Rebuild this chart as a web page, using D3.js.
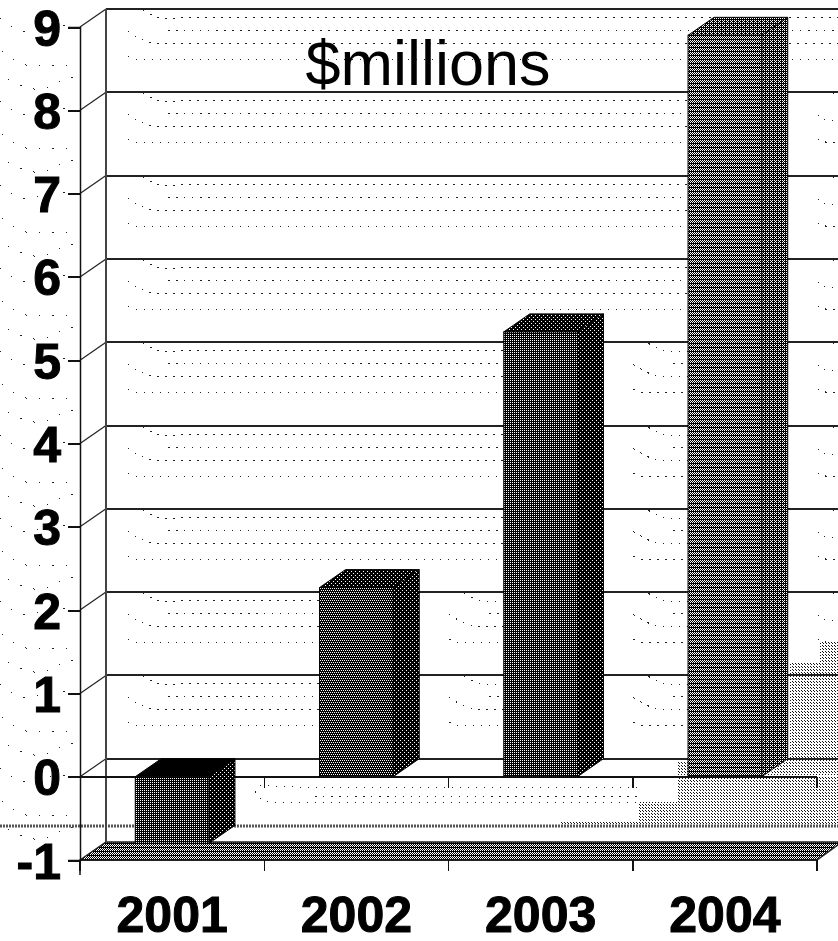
<!DOCTYPE html>
<html>
<head>
<meta charset="utf-8">
<script src="https://d3js.org/d3.v7.min.js"></script>
<style>
html,body{margin:0;padding:0;background:#fff}
svg{display:block}
text{font-family:"Liberation Sans",Arial,sans-serif;fill:#000}
</style>
</head>
<body>
<div id="chart"></div>
<script>
// Revenue by year, in $ millions
const years = ["2001", "2002", "2003", "2004"];
const revenue = [-0.8, 2.27, 5.34, 8.9];
const yTicks = [-1, 0, 1, 2, 3, 4, 5, 6, 7, 8, 9];
const unitLabel = "$millions";

const W = 838, H = 941;
const plotLeft = 80, plotRight = 817, plotTop = 27, plotBottom = 860;
const depthX = 26, depthY = 18;       // oblique offset of the back wall

const svg = d3.select("#chart").append("svg").attr("width", W).attr("height", H);
const defs = svg.append("defs");

const y = d3.scaleLinear().domain([-1, 9]).range([plotBottom, plotTop]);
const x = d3.scaleBand().domain(years).range([plotLeft, plotRight]).paddingInner(0.6).paddingOuter(0.3);

// 1-bit fill textures: each is a tile of black cells on a white or black ground
function tile(id, size, ground, cells, ink) {
  const p = defs.append("pattern").attr("id", id).attr("patternUnits", "userSpaceOnUse")
    .attr("width", size).attr("height", size);
  p.append("rect").attr("width", size).attr("height", size).attr("fill", ground);
  p.selectAll("rect.c").data(cells).join("rect").attr("class", "c")
    .attr("x", d => d[0]).attr("y", d => d[1]).attr("width", 1).attr("height", 1).attr("fill", ink);
}
tile("grid", 2, "#000", [[0, 0]], "#fff");
tile("gridDiag", 4, "#000", [[0, 0], [2, 0], [1, 2], [3, 2]], "#fff");
tile("sideDots", 4, "#000", [[0, 0], [2, 2]], "#fff");
tile("sideWeave", 4, "#000", [[0, 0], [2, 0], [0, 2], [2, 2], [3, 1]], "#fff");
tile("mid", 4, "#000", [[0, 0], [2, 0], [1, 1], [3, 1], [0, 2], [2, 2]], "#fff");
tile("topDark", 4, "#000", [[1, 1], [3, 3]], "#fff");
tile("floor", 4, "#000", [[0, 0], [2, 0], [1, 1], [3, 1], [0, 2], [2, 2]], "#fff");
tile("stipple", 3, "#fff", [[0, 0], [1, 1]], "#111");

const barStyles = [
  { front: "url(#grid)", side: "url(#sideDots)", cap: "#000" },
  { front: "url(#gridDiag)", side: "url(#sideDots)", cap: "url(#topDark)" },
  { front: "url(#grid)", side: "url(#sideDots)", cap: "url(#topDark)" },
  { front: "url(#mid)", side: "url(#sideWeave)", cap: "url(#sideWeave)" }
];

// Faint dotted wash behind the plot, drawn without smoothing so the dots stay hard
const wash = svg.append("g").attr("fill", "none").attr("stroke", "#222").attr("stroke-width", 1)
  .attr("stroke-dasharray", "1.5 6.5").attr("shape-rendering", "crispEdges");
const waveRows = [
  [[15, 1], [37, 9], [60, 8]],
  [[40, 21], [60, 21]],
  [[0, 22], [10, 28], [27, 34], [45, 34]],
  [[0, 47], [12, 50], [30, 50]]
];
const waveLine = d3.line().curve(d3.curveMonotoneX);
function waveRow(start, end, y0, row, dash) {
  // Snap each row to the pixel grid so flat stretches come out one pixel tall
  const base = Math.round(y0) + 0.5;
  const pts = row.map(p => [start + p[0], base + p[1]]).filter(p => p[0] < end);
  if (!pts.length) return;
  pts.push([end, pts[pts.length - 1][1]]);
  const path = wash.append("path").attr("d", waveLine(pts));
  if (dash) path.attr("stroke-dasharray", dash);
}
const marginDash = "1.5 12";
d3.range(-1, 9).forEach(k => {
  const y0 = y(k + 1) - depthY;
  if (k >= 0) {
    // Each band of the back wall restarts to the right of any bar that fills it
    const blockers = years.filter((d, i) => revenue[i] >= k + 1);
    const starts = [128].concat(blockers.map(d => x(d) + x.bandwidth() + depthX + 30));
    starts.forEach((s, i) => {
      const next = blockers[i] ? x(blockers[i]) : W;
      waveRows.forEach(row => waveRow(s, next, y0, row));
    });
  }
  // Wash in the margin left of the axis
  const y1 = y(k + 1) - 10;
  waveRow(0, 70, y1, [[0, 1], [26, 14], [60, 8]], marginDash);
  waveRow(0, 70, y1, [[2, 34], [30, 48], [70, 40]], marginDash);
  waveRow(0, 76, y1, [[8, 62], [40, 72], [72, 60]], marginDash);
});
waveRow(255, 640, y(0) - depthY, [[5, 26], [30, 27], [60, 28]]);
waveRow(255, 640, y(0) - depthY, [[60, 37], [120, 37]]);
waveRow(255, 640, y(0) - depthY, [[0, 32], [10, 42], [25, 43]]);

// Stippled patches in the lower right corner
const patch = d3.line();
const patches = [
  [[820, 642], [838, 642], [838, 757], [790, 757], [790, 662], [820, 662]],
  [[767, 775], [790, 757], [838, 757], [838, 775]],
  [[678, 762], [690, 762], [690, 775], [678, 775]],
  [[678, 776], [838, 776], [838, 825], [560, 825], [560, 822], [638, 822], [638, 802], [678, 802]]
];
svg.append("g").selectAll("path").data(patches).join("path")
  .attr("d", d => patch(d) + "Z").attr("fill", "url(#stipple)");

// Dithered rule just above the floor
svg.append("line").attr("x1", 0).attr("x2", W).attr("y1", 826).attr("y2", 826)
  .attr("stroke", "#555").attr("stroke-width", 3).attr("stroke-dasharray", "2 1");

// Floor
svg.append("path")
  .attr("d", patch([[plotLeft, y(-1)], [plotLeft + depthX, y(-1) - depthY], [W + 4, y(-1) - depthY], [plotRight, y(-1)]]) + "Z")
  .attr("fill", "url(#floor)").attr("stroke", "#222").attr("stroke-width", 1.5);

// Back-wall grid lines with their oblique connectors to the front axis
const grid = svg.append("g").attr("stroke", "#222").attr("stroke-width", 2).attr("shape-rendering", "crispEdges");
grid.selectAll("line.back").data(yTicks.slice(1)).join("line").attr("class", "back")
  .attr("x1", plotLeft + depthX).attr("x2", W)
  .attr("y1", d => Math.round(y(d) - depthY)).attr("y2", d => Math.round(y(d) - depthY));
svg.append("g").attr("stroke", "#222").attr("stroke-width", 1.2)
  .selectAll("line").data(yTicks.slice(1)).join("line")
  .attr("x1", plotLeft).attr("x2", plotLeft + depthX)
  .attr("y1", d => y(d)).attr("y2", d => y(d) - depthY);
svg.append("line").attr("x1", plotLeft + depthX).attr("x2", plotLeft + depthX)
  .attr("y1", y(9) - depthY).attr("y2", y(-1) - depthY)
  .attr("stroke", "#444").attr("stroke-width", 2);

// Value axis
const yAxis = svg.append("g").attr("transform", `translate(${plotLeft},0)`)
  .call(d3.axisLeft(y).tickValues(yTicks).tickFormat(String).tickSize(12).tickPadding(7));
yAxis.select(".domain").attr("stroke", "#111").attr("stroke-width", 1.5);
yAxis.selectAll(".tick line").attr("stroke", "#111").attr("stroke-width", 2).attr("shape-rendering", "crispEdges");
yAxis.selectAll("text").attr("font-size", 50).attr("font-weight", 700).attr("dy", "0.36em")
  .attr("font-family", "Liberation Sans").attr("stroke", "#000").attr("stroke-width", 1);
yAxis.append("line").attr("y1", plotBottom).attr("y2", plotBottom + 15).attr("stroke", "#111").attr("stroke-width", 1.5);

// Category axis along the floor, labels centred on each bar
const xAxis = svg.append("g").attr("transform", `translate(0,${plotBottom})`)
  .call(d3.axisBottom(x).tickSize(0).tickPadding(36));
xAxis.select(".domain").attr("stroke", "#111").attr("stroke-width", 1.5).attr("d", `M${plotLeft},0H${plotRight}`);
xAxis.selectAll("text").attr("font-size", 50).attr("font-weight", 700).attr("font-family", "Liberation Sans")
  .attr("stroke", "#000").attr("stroke-width", 1);
const step = x.step();
const boundaries = d3.range(years.length + 1).map(i => plotLeft + i * step);
svg.append("g").attr("stroke", "#111").attr("stroke-width", 1.5).attr("shape-rendering", "crispEdges")
  .selectAll("line").data(boundaries).join("line")
  .attr("x1", d => d).attr("x2", d => d).attr("y1", plotBottom).attr("y2", plotBottom + 11);

// Zero line with its own tick marks
svg.append("line").attr("x1", plotLeft).attr("x2", plotRight).attr("y1", y(0)).attr("y2", y(0))
  .attr("stroke", "#111").attr("stroke-width", 2).attr("shape-rendering", "crispEdges");
svg.append("g").attr("stroke", "#111").attr("stroke-width", 1.5).attr("shape-rendering", "crispEdges")
  .selectAll("line").data(boundaries.slice(1)).join("line")
  .attr("x1", d => d).attr("x2", d => d).attr("y1", y(0)).attr("y2", y(0) + 11);

// Oblique bars: side, cap, then front face
const bars = svg.append("g").selectAll("g").data(years).join("g");
bars.each(function (d, i) {
  const g = d3.select(this);
  const x0 = x(d), x1 = x0 + x.bandwidth();
  const yTop = Math.min(y(0), y(revenue[i])), yBase = Math.max(y(0), y(revenue[i]));
  const st = barStyles[i];
  g.append("path")
    .attr("d", patch([[x1, yTop], [x1 + depthX, yTop - depthY], [x1 + depthX, yBase - depthY], [x1, yBase]]) + "Z")
    .attr("fill", st.side).attr("stroke", "#000");
  g.append("path")
    .attr("d", patch([[x0, yTop], [x0 + depthX, yTop - depthY], [x1 + depthX, yTop - depthY], [x1, yTop]]) + "Z")
    .attr("fill", st.cap).attr("stroke", "#000");
  g.append("rect").attr("x", x0).attr("y", yTop).attr("width", x.bandwidth()).attr("height", yBase - yTop)
    .attr("fill", st.front).attr("stroke", "#000");
});

// Unit caption
svg.append("text").attr("x", 428).attr("y", 85).attr("text-anchor", "middle")
  .attr("font-size", 63).text(unitLabel);
</script>
</body>
</html>
